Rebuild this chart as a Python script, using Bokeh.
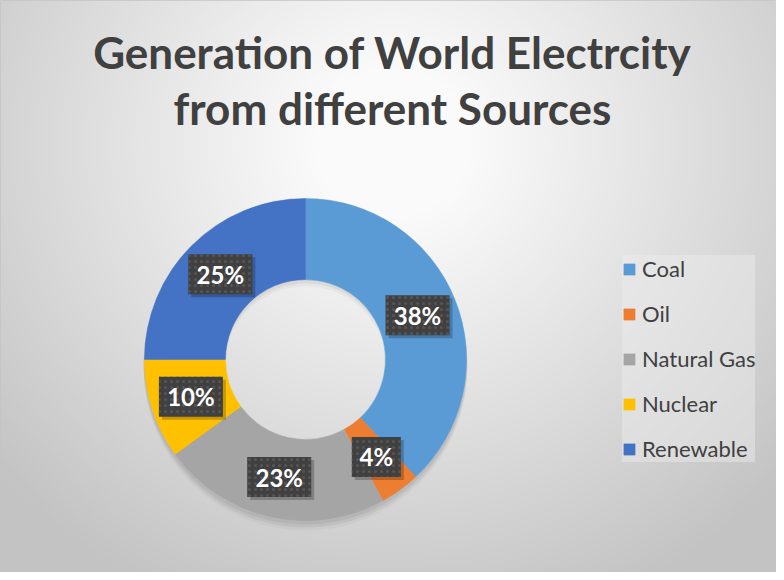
import numpy as np
from bokeh.plotting import figure
from bokeh.models import ColumnDataSource, Range1d, Legend, LegendItem
from bokeh.core.properties import value
from bokeh.embed import file_html
from bokeh.resources import INLINE

# ---- data ----
title_lines = ["Generation of World Electrcity", "from different Sources"]
sources = ["Coal", "Oil", "Natural Gas", "Nuclear", "Renewable"]
shares = [38, 4, 23, 10, 25]
colors = ["#5B9BD5", "#ED7D31", "#A5A5A5", "#FFC000", "#4472C4"]

W, H = 776, 572
FONT = "Lato"

p = figure(width=W, height=H, output_backend="svg", toolbar_location=None,
           x_range=Range1d(0, W), y_range=Range1d(0, H), min_border=0)
p.axis.visible = False
p.grid.visible = False
p.outline_line_color = "#c4c4c4"
p.background_fill_color = "#dcdcdc"
p.border_fill_color = "#ffffff"

# ---- background radial gradient (style only) ----
gw, gh = 388, 286
gx = np.linspace(0, W, gw)
gy = np.linspace(0, H, gh)
X, Y = np.meshgrid(gx, gy)
d = np.sqrt((X - 392) ** 2 + ((Y - 430) * 1.05) ** 2)
t = np.clip((d - 80) / 450.0, 0, 1)
v = (250 - 55 * t).astype(np.uint8)
img = np.empty((gh, gw), dtype=np.uint32)
view = img.view(dtype=np.uint8).reshape((gh, gw, 4))
view[:, :, 0] = v
view[:, :, 1] = v
view[:, :, 2] = v
view[:, :, 3] = 255
p.image_rgba(image=[img], x=0, y=0, dw=W, dh=H)

# ---- title ----
p.text(x=[392, 392], y=[521, 465], text=title_lines,
       text_font=value(FONT), text_font_style="bold", text_font_size="44px",
       text_color="#404040", text_align="center", text_baseline="middle")

# ---- donut ----
cx, cy = 305, 213
r_out, r_in = 161, 80
vals = np.array(shares, dtype=float)
frac = vals / vals.sum()
cum_end = np.cumsum(frac)
cum_start = cum_end - frac
start = np.pi / 2 - 2 * np.pi * cum_start
end = np.pi / 2 - 2 * np.pi * cum_end
mid = np.pi / 2 - 2 * np.pi * (cum_start + frac / 2)

# soft shadow
for off, a in [(3, 0.06), (6, 0.05), (9, 0.03)]:
    p.annulus(x=cx, y=cy - off, inner_radius=r_in + 2, outer_radius=r_out + 1,
              fill_color="black", fill_alpha=a, line_color=None)

src = ColumnDataSource(dict(name=sources, start=start, end=end, color=colors))
wr = p.annular_wedge(x=cx, y=cy, inner_radius=r_in, outer_radius=r_out,
                     start_angle="start", end_angle="end", direction="clock",
                     fill_color="color", line_color="color", line_width=0.5,
                     source=src)

# ---- data labels ----
r_lab = (r_in + r_out) / 2
lx = cx + r_lab * np.cos(mid)
ly = cy + r_lab * np.sin(mid)
labels = [f"{s}%" for s in shares]
bw = [19 + 15 * len(s) for s in labels]
lab = ColumnDataSource(dict(x=lx, y=ly, xs=lx + 3, ys=ly - 3, w=bw, text=labels))
p.rect(x="xs", y="ys", width="w", height=40, source=lab,
       fill_color="black", fill_alpha=0.22, line_color=None)
p.rect(x="x", y="y", width="w", height=40, source=lab,
       fill_color="#404040", line_color=None,
       hatch_pattern="dot", hatch_color="#555555", hatch_scale=6, hatch_weight=1)
p.text(x="x", y="y", text="text", source=lab,
       text_font=value(FONT), text_font_style="bold", text_font_size="24px",
       text_color="white", text_align="center", text_baseline="middle")

# ---- legend ----
items = [LegendItem(label=s, renderers=[wr], index=i) for i, s in enumerate(sources)]
legend = Legend(items=items, location=(622, 110), orientation="vertical",
                glyph_width=14, glyph_height=14, label_height=20,
                label_text_font=FONT, label_text_font_size="22px",
                label_text_color="#404040", label_standoff=6,
                spacing=18, padding=12, margin=0,
                background_fill_color="#eeeeee", background_fill_alpha=0.45,
                border_line_color=None)
p.add_layout(legend)

open("out.html", "w").write(file_html(p, INLINE))
